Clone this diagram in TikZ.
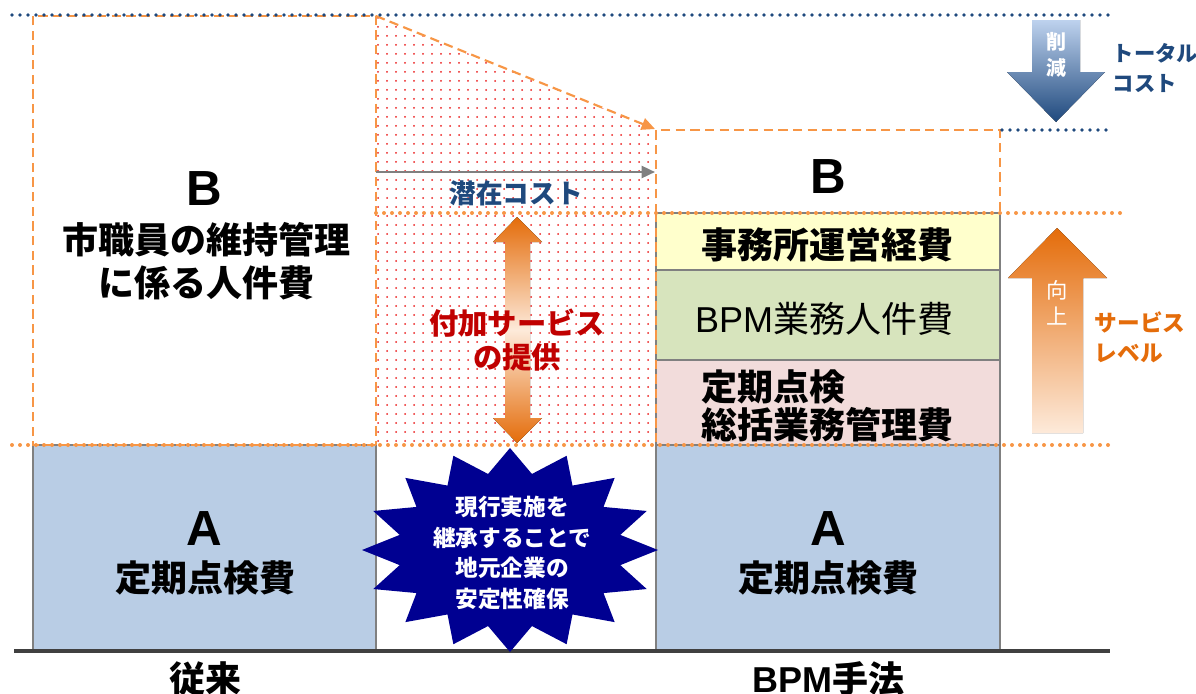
\documentclass[tikz,border=0pt]{standalone}
\usepackage{fontspec}
\setmainfont{Noto Sans CJK JP}
\newfontfamily\latin{Liberation Sans}
\usetikzlibrary{arrows.meta,patterns.meta}

\definecolor{orangeL}{RGB}{247,150,70}
\definecolor{orangeD}{RGB}{228,108,10}
\definecolor{orangeW}{RGB}{253,234,218}
\definecolor{navyL}{RGB}{31,73,125}
\definecolor{blueT}{RGB}{190,210,238}
\definecolor{grayB}{RGB}{128,128,128}
\definecolor{baseC}{RGB}{64,64,64}
\definecolor{fillA}{RGB}{185,205,229}
\definecolor{fillY}{RGB}{255,255,204}
\definecolor{fillG}{RGB}{215,228,189}
\definecolor{fillP}{RGB}{242,220,219}
\definecolor{redT}{RGB}{192,0,0}
\definecolor{starC}{RGB}{0,0,145}
\definecolor{dotR}{RGB}{235,30,30}

\tikzset{
  odot/.style={draw=orangeL,line width=3pt,dash pattern=on 0pt off 6pt,line cap=round},
  ndot/.style={draw=navyL,line width=2.8pt,dash pattern=on 0pt off 6pt,line cap=round},
  odash/.style={draw=orangeL,line width=1.6pt,dash pattern=on 7pt off 4pt},
  bar/.style={draw=grayB,line width=1.5pt},
  bigtxt/.style={font=\fontsize{27}{32}\selectfont\bfseries,align=center},
  lettr/.style={font=\latin\fontsize{37}{40}\selectfont\bfseries},
}

\begin{document}
\begin{tikzpicture}[x=0.75pt,y=0.75pt,yscale=-1,xscale=1]
\useasboundingbox (0,0) rectangle (1196,693);

%Shape: Dotted area
\fill[pattern={Dots[distance=6.75pt,radius=0.75pt]},pattern color=dotR] (376,16) -- (656,130) -- (656,445) -- (376,445) -- cycle ;

%Shape: Rectangle A (old)
\filldraw[bar,fill=fillA] (33,445) rectangle (376,651) ;
%Shape: Rectangle A (new)
\filldraw[bar,fill=fillA] (656,445) rectangle (1000,651) ;
%Shape: Rectangle
\filldraw[bar,fill=fillP] (656,360) rectangle (1000,445) ;
%Shape: Rectangle
\filldraw[bar,fill=fillG] (656,270) rectangle (1000,360) ;
%Shape: Rectangle
\filldraw[bar,fill=fillY] (656,213) rectangle (1000,270) ;

%Dashed Lines
\draw[odash] (376,445) -- (33,445) -- (33,16) -- (376,16) -- (376,445) ;
\draw[odash] (656,213) -- (656,130) -- (1000,130) -- (1000,213) ;
\draw[odash] (656,213) -- (656,445) ;

%Straight Lines
\coordinate (cTop) at (376,16);
\coordinate (cMid) at (655,129);
\draw[odash,-{Triangle[length=10pt,width=9pt]}] (cTop) -- (cMid) ;
\coordinate (gS) at (376,172);
\coordinate (gE) at (655,172);
\draw[draw=grayB,line width=1.8pt,-{Triangle[length=10pt,width=9pt]}] (gS) -- (gE) ;

%Dotted Lines
\draw[ndot] (12,15) -- (1108,15) ;
\draw[ndot] (1002,130) -- (1112,130) ;
\draw[odot] (376,213) -- (1123,213) ;
\draw[odot] (12,445) -- (1108,445) ;

%Base line
\draw[draw=baseC,line width=3pt] (14,651) -- (1110,651) ;

%Shape: Double arrow
\fill[top color=orangeD,bottom color=orangeD,middle color=orangeW] (517,217) -- (542,242) -- (530,242) -- (530,418) -- (542,418) -- (517,443) -- (493,418) -- (505,418) -- (505,242) -- (493,242) -- cycle ;

%Shape: Down arrow
\fill[top color=blueT,bottom color=navyL] (1032,20) -- (1080,20) -- (1080,72) -- (1105,72) -- (1056,122) -- (1007,72) -- (1032,72) -- cycle ;
%Shape: Up arrow
\fill[top color=orangeD,bottom color=orangeW] (1057,228) -- (1107,278) -- (1083,278) -- (1083,433) -- (1032,433) -- (1032,278) -- (1008,278) -- cycle ;

%Shape: Star
\fill[starC,shift={(510,550)}] (90:148 and 102) \foreach \i in {1,...,31} {
  -- ({90+\i*11.25}:{148*(1-0.24*mod(\i,2))} and {102*(1-0.24*mod(\i,2))})} -- cycle ;

% Text Node
\draw (204,189) node (bOld) [lettr] {B};
% Text Node
\draw (206,261) node (bOldTxt) [bigtxt] {市職員の維持管理\\に係る人件費};
% Text Node
\draw (204,529) node (aOld) [lettr] {A};
% Text Node
\draw (205,578) node (aOldTxt) [bigtxt] {定期点検費};
% Text Node
\draw (828,177) node (bNew) [lettr] {B};
% Text Node
\draw (827,245) node (jimuTxt) [bigtxt] {事務所運営経費};
% Text Node
\draw (824,319) node (bpmTxt) [font=\fontsize{27}{32}\selectfont] {{\latin BPM}業務人件費};
% Text Node
\draw (697,406) node (kanriTxt) [bigtxt,anchor=west,align=left,font=\fontsize{27}{28.5}\selectfont\bfseries] {定期点検\\総括業務管理費};
% Text Node
\draw (828,529) node (aNew) [lettr] {A};
% Text Node
\draw (828,578) node (aNewTxt) [bigtxt] {定期点検費};
% Text Node
\draw (516,193) node (senzai) [font=\fontsize{20}{24}\selectfont\bfseries,text=navyL] {潜在コスト};
% Text Node
\draw (517,340) node (fuka) [font=\fontsize{22}{25.5}\selectfont\bfseries,text=redT,align=center] {付加サービス\\の提供};
% Text Node
\draw (512,553) node (starTxt) [font=\fontsize{17}{23}\selectfont\bfseries,text=white,align=center] {現行実施を\\継承することで\\地元企業の\\安定性確保};
% Text Node
\draw (1056,55) node (sakugen) [font=\fontsize{15}{19}\selectfont\bfseries,text=white,align=center] {削\\減};
% Text Node
\draw (1108,68) node (total) [anchor=west,font=\fontsize{16}{22}\selectfont\bfseries,text=navyL,align=left] {トータル\\コスト};
% Text Node
\draw (1057,303) node (kojo) [font=\fontsize{16}{20}\selectfont,text=white,align=center] {向\\上};
% Text Node
\draw (1090,337) node (level) [anchor=west,font=\fontsize{17}{22.5}\selectfont\bfseries,text=orangeD,align=left] {サービス\\レベル};
% Text Node
\draw (205,679) node (juurai) [bigtxt] {従来};
% Text Node
\draw (828,679) node (bpmHo) [bigtxt] {{\latin\bfseries BPM}手法};

\end{tikzpicture}
\end{document}
